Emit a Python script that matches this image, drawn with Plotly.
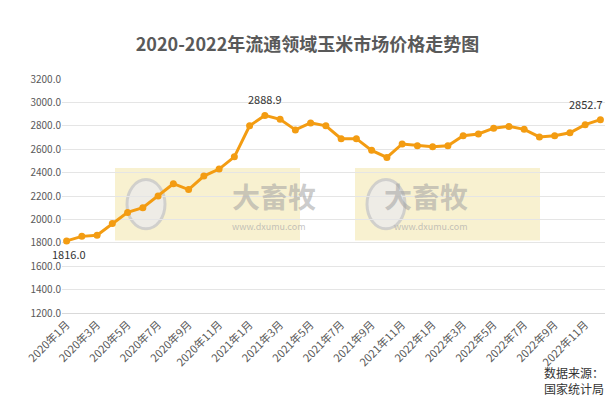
import plotly.graph_objects as go

months = [f"{y}年{m}月" for y in (2020, 2021, 2022) for m in range(1, 13)]
prices = [1816.0, 1855, 1865, 1965, 2060, 2100, 2200, 2305, 2255, 2370, 2430, 2535,
          2800, 2888.9, 2855, 2765, 2825, 2800, 2690, 2690, 2590, 2530, 2645, 2630,
          2620, 2630, 2715, 2730, 2780, 2795, 2770, 2705, 2715, 2740, 2810, 2852.7]
yticks = [1200 + 200 * i for i in range(11)]

fig = go.Figure()
fig.add_trace(go.Scatter(
    x=list(range(len(months))), y=prices, mode="lines+markers",
    line=dict(color="#F39C12", width=3),
    marker=dict(color="#F39C12", size=7),
    cliponaxis=False,
))

L, R = 62, 10
pw = 615 - L - R
def px(x):
    return (x - L) / pw

for x0, x1 in [(115, 300), (355, 540)]:
    a, b = px(x0), px(x1)
    fig.add_shape(type="rect", xref="paper", yref="paper", x0=a, x1=b, y0=0.31, y1=0.62,
                  fillcolor="rgba(240,225,150,0.45)", line=dict(width=0), layer="below")
    fig.add_shape(type="circle", xref="paper", yref="paper", x0=px(x0 + 12), x1=px(x0 + 50),
                  y0=0.36, y1=0.57, line=dict(color="rgba(200,200,200,0.8)", width=3),
                  fillcolor="rgba(235,235,235,0.8)", layer="below")
    fig.add_annotation(xref="paper", yref="paper", x=px(x0 + 115), y=0.50,
                       text="<b>大畜牧</b>", showarrow=False,
                       font=dict(size=28, color="rgba(160,160,160,0.55)",
                                 family="Noto Sans CJK SC"))
    fig.add_annotation(xref="paper", yref="paper", x=px(x0 + 115), y=0.37,
                       text="www.dxumu.com", showarrow=False,
                       font=dict(size=9, color="rgba(170,170,170,0.7)"))

fig.add_annotation(x=0, y=prices[0], text="1816.0", showarrow=False, yshift=-13,
                   xshift=2, font=dict(size=11, color="#333"))
fig.add_annotation(x=13, y=prices[13], text="2888.9", showarrow=False, yshift=16,
                   font=dict(size=11, color="#333"))
fig.add_annotation(x=35, y=prices[35], text="2852.7", showarrow=False, yshift=16,
                   xshift=-14, font=dict(size=11, color="#333"))
fig.add_annotation(xref="paper", yref="paper", x=px(606), y=-0.21, xanchor="right",
                   yanchor="top", text="数据来源：<br>国家统计局", showarrow=False,
                   align="left", font=dict(size=12, color="#333"))

fig.update_layout(
    width=615, height=404,
    margin=dict(l=L, r=R, t=79, b=91),
    paper_bgcolor="white", plot_bgcolor="white",
    showlegend=False,
    font=dict(family="Noto Sans CJK SC", color="#595959"),
    title=dict(text="<b>2020-2022年流通领域玉米市场价格走势图</b>", x=0.5, y=0.89,
               xanchor="center", yanchor="middle",
               font=dict(size=18, color="#595959")),
    xaxis=dict(range=[-0.3, 35.3], autorange=False, tickmode="array",
               tickvals=list(range(0, 36, 2)), ticktext=months[::2],
               tickangle=-45, tickfont=dict(size=11, color="#595959"),
               showgrid=False, showline=True, linecolor="#d9d9d9", zeroline=False),
    yaxis=dict(range=[1200, 3200], autorange=False, tickvals=yticks,
               ticktext=[f"{v:.1f}" for v in yticks],
               tickfont=dict(size=10, color="#595959"),
               gridcolor="#e5e5e5", zeroline=False),
)

fig.write_html("out.html", config={"displayModeBar": False})
with open("out.html", encoding="utf-8") as f:
    html = f.read()
html = html.replace("<head>", "<head><style>html,body{margin:0;padding:0;overflow:hidden}</style>", 1)
with open("out.html", "w", encoding="utf-8") as f:
    f.write(html)
